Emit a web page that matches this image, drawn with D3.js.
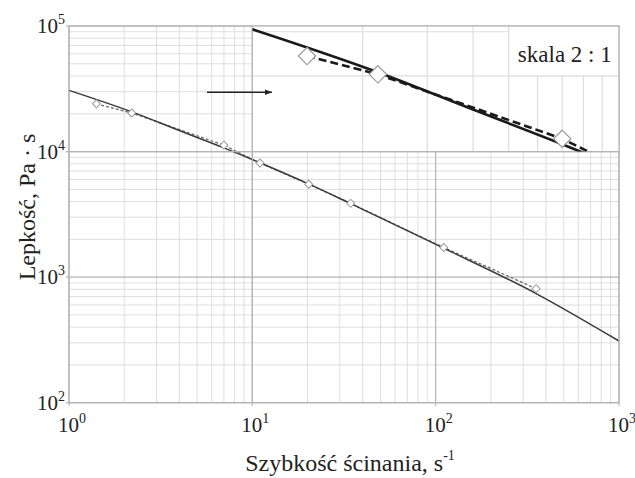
<!DOCTYPE html>
<html>
<head>
<meta charset="utf-8">
<script src="https://cdn.jsdelivr.net/npm/d3@7"></script>
<style>
  body { margin: 0; background: #fff; }
  text { font-family: "Liberation Serif", "Times New Roman", serif; fill: #222; }
</style>
</head>
<body>
<svg id="chart" width="635" height="478"></svg>
<script>
// measured points (diamonds)
var pointRate = [1.41, 2.2, 7.0, 11.0, 20.3, 34.4, 110.7, 353];
var pointVisc = [24000, 20300, 11250, 8110, 5500, 3870, 1720, 810];
// model curve
var fitRate = [1, 2.2, 4, 7.0, 11, 20.4, 34.4, 110.7, 353, 1000];
var fitVisc = [30700, 20700, 14700, 10700, 8150, 5500, 3850, 1700, 740, 310];
var xTicks = [1, 10, 100, 1000];
var yTicks = [100, 1000, 10000, 100000];
// zoomed part shown in the inset (scale 2:1)
var insetRate = [1, 10];
var insetVisc = [10000, 31623];
var insetLabel = "skala 2 : 1";
var arrowRate = [5.66, 12.8];
var arrowVisc = 29650;

var svg = d3.select("#chart");
var pL = 69, pR = 619, pT = 26, pB = 402.7;

var x = d3.scaleLog().domain([1, 1000]).range([pL, pR]);
var y = d3.scaleLog().domain([100, 100000]).range([pB, pT]);

// inset scales: one decade of x, half decade of y, over the top-right block
var ix = d3.scaleLog().domain(insetRate).range([x(10), x(1000)]);
var iy = d3.scaleLog().domain(insetVisc).range([y(1e4), y(1e5)]);

var points = pointRate.map(function(d, i){ return [d, pointVisc[i]]; });
var fit = fitRate.map(function(d, i){ return [d, fitVisc[i]]; });

var minorCol = "#dedede", majorCol = "#b4b4b4";

// minor grid values
var minorX = [], minorY = [];
[1, 10, 100].forEach(function(d){ for (var k = 2; k <= 9; k++) minorX.push(k*d); });
[100, 1000, 10000].forEach(function(d){ for (var k = 2; k <= 9; k++) minorY.push(k*d); });

var grid = svg.append("g");
grid.selectAll(".vmin").data(minorX).enter().append("line")
	.attr("x1", function(d){ return x(d); }).attr("x2", function(d){ return x(d); })
	.attr("y1", pT).attr("y2", pB)
	.style("stroke", minorCol).style("stroke-width", 1);
grid.selectAll(".hmin").data(minorY).enter().append("line")
	.attr("y1", function(d){ return y(d); }).attr("y2", function(d){ return y(d); })
	.attr("x1", pL).attr("x2", pR)
	.style("stroke", minorCol).style("stroke-width", 1);
grid.selectAll(".vmaj").data(xTicks).enter().append("line")
	.attr("x1", function(d){ return x(d); }).attr("x2", function(d){ return x(d); })
	.attr("y1", pT).attr("y2", pB + 3)
	.style("stroke", majorCol).style("stroke-width", 1.2);
grid.selectAll(".hmaj").data(yTicks).enter().append("line")
	.attr("y1", function(d){ return y(d); }).attr("y2", function(d){ return y(d); })
	.attr("x1", pL - 3).attr("x2", pR)
	.style("stroke", majorCol).style("stroke-width", 1.2);

// main curves
var line = d3.line().x(function(d){ return x(d[0]); }).y(function(d){ return y(d[1]); });
svg.append("path").datum(points)
	.attr("d", line)
	.style("fill", "none").style("stroke", "#666").style("stroke-width", 1.2)
	.style("stroke-dasharray", "3,2");
svg.append("path").datum(fit)
	.attr("d", line.curve(d3.curveMonotoneX))
	.style("fill", "none").style("stroke", "#3a3a3a").style("stroke-width", 1.5);

svg.selectAll(".pt").data(points).enter().append("path")
	.attr("d", d3.symbol().type(d3.symbolSquare).size(32))
	.attr("transform", function(d){ return "translate(" + x(d[0]) + "," + y(d[1]) + ") rotate(45)"; })
	.style("fill", "#fff").style("stroke", "#999").style("stroke-width", 1);

// ---- inset ----
var ins = svg.append("g");
svg.append("clipPath").attr("id", "insclip").append("rect")
	.attr("x", x(10)).attr("y", y(1e5)).attr("width", x(1000) - x(10)).attr("height", y(1e4) - y(1e5));
ins.append("rect")
	.attr("x", x(10)).attr("y", y(1e5)).attr("width", x(1000) - x(10)).attr("height", y(1e4) - y(1e5))
	.style("fill", "#fff");
var insMinorX = [2, 3, 4, 5, 6, 7, 8, 9], insMinorY = [20000, 30000];
ins.selectAll(".iv").data(insMinorX).enter().append("line")
	.attr("x1", function(d){ return ix(d); }).attr("x2", function(d){ return ix(d); })
	.attr("y1", y(1e5)).attr("y2", y(1e4))
	.style("stroke", minorCol).style("stroke-width", 1.2);
ins.selectAll(".ih").data(insMinorY).enter().append("line")
	.attr("y1", function(d){ return iy(d); }).attr("y2", function(d){ return iy(d); })
	.attr("x1", x(10)).attr("x2", x(1000))
	.style("stroke", minorCol).style("stroke-width", 1.2);

// label box covering the top-right corner of the inset
ins.append("rect")
	.attr("x", ix(5)).attr("y", y(1e5)).attr("width", ix(10) - ix(5)).attr("height", iy(20000) - y(1e5))
	.style("fill", "#fff").style("stroke", minorCol).style("stroke-width", 1.2);
ins.append("text")
	.attr("x", (ix(5) + ix(10))/2 + 1).attr("y", iy(20000) - 14)
	.attr("text-anchor", "middle").style("font-size", "23px")
	.text(insetLabel);

// inset borders and frame
svg.append("line").attr("x1", x(10)).attr("x2", x(10)).attr("y1", pT).attr("y2", pB)
	.style("stroke", majorCol).style("stroke-width", 1.2);
svg.append("line").attr("x1", pL - 3).attr("x2", pR).attr("y1", y(1e4)).attr("y2", y(1e4))
	.style("stroke", majorCol).style("stroke-width", 1.2);
svg.append("rect").attr("x", pL).attr("y", pT).attr("width", pR - pL).attr("height", pB - pT)
	.style("fill", "none").style("stroke", majorCol).style("stroke-width", 1.2);

var iline = d3.line().x(function(d){ return ix(d[0]); }).y(function(d){ return iy(d[1]); });
var inCurves = svg.append("g").attr("clip-path", "url(#insclip)");
inCurves.append("path").datum(points)
	.attr("d", iline)
	.style("fill", "none").style("stroke", "#1a1a1a").style("stroke-width", 2.6)
	.style("stroke-dasharray", "8,4");
inCurves.append("path").datum(fit)
	.attr("d", iline.curve(d3.curveMonotoneX))
	.style("fill", "none").style("stroke", "#1a1a1a").style("stroke-width", 2.6);
inCurves.selectAll(".ipt").data(points).enter().append("path")
	.attr("d", d3.symbol().type(d3.symbolSquare).size(150))
	.attr("transform", function(d){ return "translate(" + ix(d[0]) + "," + iy(d[1]) + ") rotate(45)"; })
	.style("fill", "#fff").style("stroke", "#999").style("stroke-width", 1.2);

// arrow
svg.append("defs").append("marker")
	.attr("id", "arr").attr("viewBox", "0 0 10 10").attr("refX", 10).attr("refY", 5)
	.attr("markerWidth", 9).attr("markerHeight", 7).attr("markerUnits", "userSpaceOnUse")
	.attr("orient", "auto")
	.append("path").attr("d", "M0,1 L10,5 L0,9 Z").style("fill", "#222");
svg.append("line")
	.attr("x1", x(arrowRate[0])).attr("x2", x(arrowRate[1]))
	.attr("y1", y(arrowVisc)).attr("y2", y(arrowVisc))
	.style("stroke", "#222").style("stroke-width", 1.5)
	.attr("marker-end", "url(#arr)");

// tick labels
var xl = svg.selectAll(".xl").data(xTicks).enter().append("text")
	.attr("x", function(d){ return x(d) - 11; }).attr("y", 432)
	.style("font-size", "21px");
xl.append("tspan").text("10");
xl.append("tspan").attr("dy", -9).style("font-size", "14px")
	.text(function(d){ return Math.round(Math.log10(d)); });

var yl = svg.selectAll(".yl").data(yTicks).enter().append("text")
	.attr("x", pL - 4).attr("y", function(d){ return y(d) + 7; })
	.attr("text-anchor", "end").style("font-size", "21px");
yl.append("tspan").text("10");
yl.append("tspan").attr("dy", -9).style("font-size", "14px")
	.text(function(d){ return Math.round(Math.log10(d)); });

// axis titles
var xt = svg.append("text").attr("x", (pL + pR)/2 + 6).attr("y", 471)
	.attr("text-anchor", "middle").style("font-size", "24px");
xt.append("tspan").text("Szybkość ścinania, s");
xt.append("tspan").attr("dy", -11).style("font-size", "14px").text("-1");

svg.append("text")
	.attr("transform", "translate(35,207) rotate(-90)")
	.attr("text-anchor", "middle").style("font-size", "24px")
	.text("Lepkość, Pa · s");
</script>
</body>
</html>
